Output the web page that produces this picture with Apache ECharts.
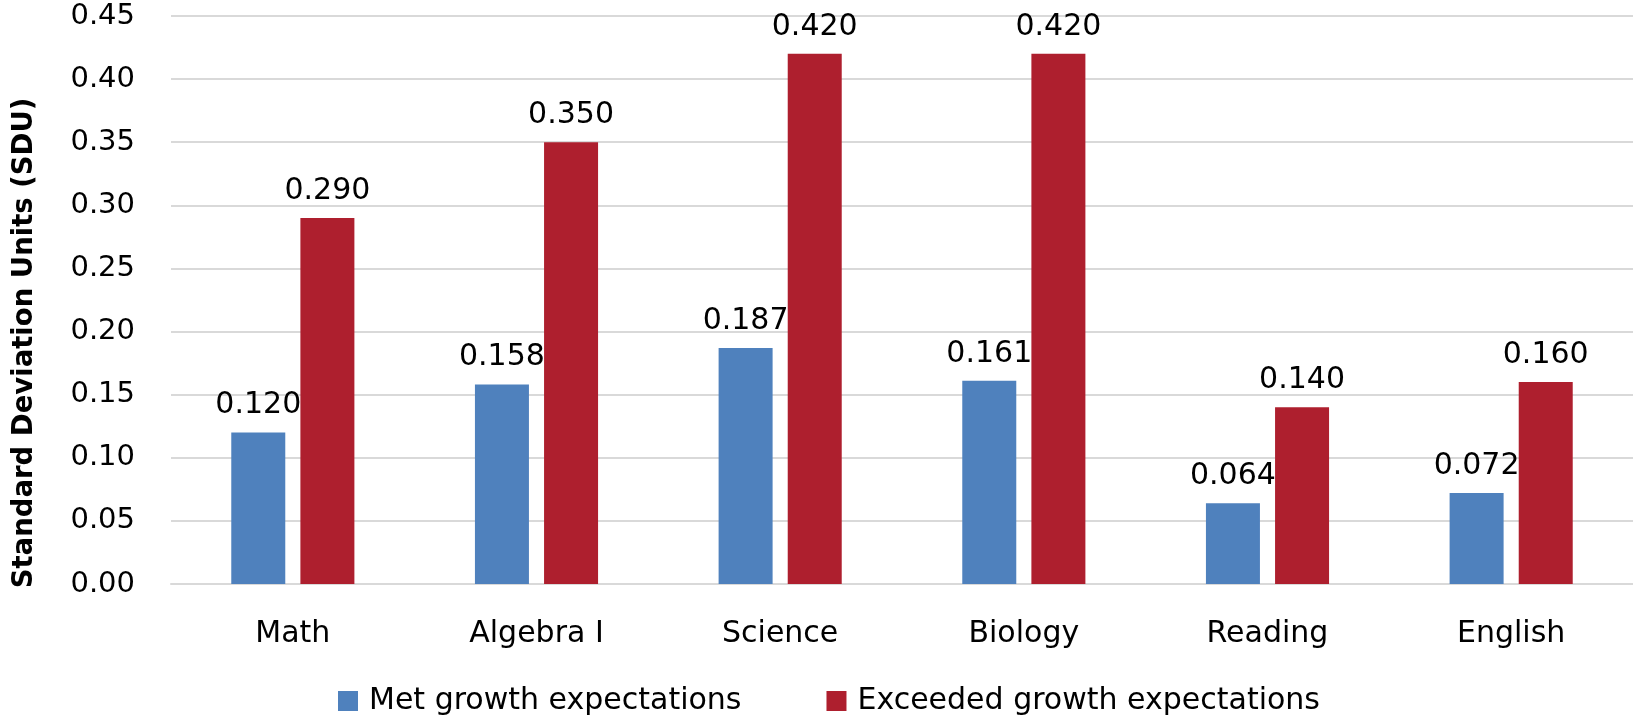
<!DOCTYPE html>
<html>
<head>
<meta charset="utf-8">
<script src="https://cdn.jsdelivr.net/npm/echarts@6/dist/echarts.min.js"></script>
<style>
html,body{margin:0;padding:0;background:#fff;}
#chart{width:1633px;height:718px;}
</style>
</head>
<body>
<div id="chart"></div>
<script>
const categories = ['Math', 'Algebra I', 'Science', 'Biology', 'Reading', 'English'];
const metValues = [0.120, 0.158, 0.187, 0.161, 0.064, 0.072];
const exceededValues = [0.290, 0.350, 0.420, 0.420, 0.140, 0.160];
const seriesNames = ['Met growth expectations', 'Exceeded growth expectations'];
const yAxisTitle = 'Standard Deviation Units (SDU)';

const FONT = '"DejaVu Sans", sans-serif';
const chart = echarts.init(document.getElementById('chart'), null, {renderer: 'canvas'});

const labelCfg = {
  show: true,
  position: 'top',
  distance: 12,
  color: '#000',
  fontFamily: FONT,
  fontSize: 30,
  formatter: p => p.value.toFixed(3)
};

chart.setOption({
  animation: false,
  backgroundColor: '#fff',
  grid: {left: 171, right: 0, top: 16, bottom: 134, containLabel: false},
  legend: {
    data: seriesNames,
    left: 333,
    top: 681,
    icon: 'rect',
    itemWidth: 20,
    itemHeight: 20,
    itemGap: 85,
    textStyle: {fontFamily: FONT, fontSize: 30, color: '#000', padding: [0, 0, 0, 6]}
  },
  xAxis: {
    type: 'category',
    data: categories,
    axisLine: {show: true, lineStyle: {color: '#d9d9d9', width: 2}},
    axisTick: {show: false},
    axisLabel: {color: '#000', fontFamily: FONT, fontSize: 30, margin: 35}
  },
  yAxis: {
    type: 'value',
    min: 0,
    max: 0.45,
    interval: 0.05,
    axisLine: {show: false},
    axisTick: {show: false},
    splitLine: {lineStyle: {color: '#d9d9d9', width: 2}},
    axisLabel: {color: '#000', fontFamily: FONT, fontSize: 29, margin: 36,
      formatter: v => v.toFixed(2)}
  },
  graphic: [{
    type: 'text',
    x: 25,
    y: 343,
    rotation: Math.PI / 2,
    style: {
      text: yAxisTitle,
      fontFamily: FONT,
      fontWeight: 'bold',
      fontSize: 27.5,
      fill: '#000',
      align: 'center',
      verticalAlign: 'middle'
    }
  }],
  series: [
    {name: seriesNames[0], type: 'bar', data: metValues, barWidth: 54, barGap: '28%',
      itemStyle: {color: '#4F81BD'}, label: labelCfg},
    {name: seriesNames[1], type: 'bar', data: exceededValues, barWidth: 54, barGap: '28%',
      itemStyle: {color: '#AE1F2E'}, label: labelCfg}
  ]
});
</script>
</body>
</html>
